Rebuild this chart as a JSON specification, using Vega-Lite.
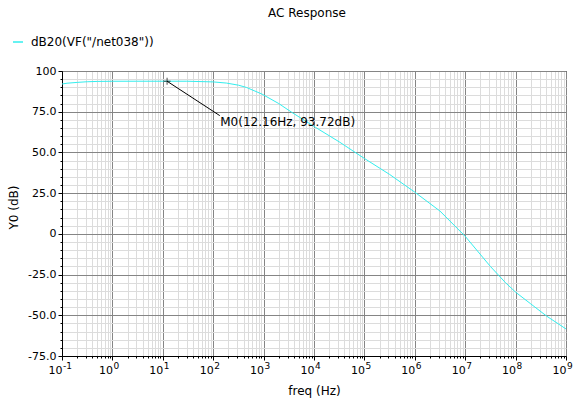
{
  "$schema": "https://vega.github.io/schema/vega-lite/v6.json",
  "width": 504,
  "height": 285,
  "autosize": {"type": "none"},
  "padding": {"left": 62, "top": 71, "right": 17, "bottom": 42},
  "background": "white",
  "config": {
    "font": "DejaVu Sans",
    "view": {"stroke": "black", "strokeWidth": 1}
  },
  "title": {
    "text": "AC Response",
    "fontSize": 12,
    "fontWeight": "normal",
    "color": "black",
    "anchor": "middle",
    "frame": "group",
    "dx": -7,
    "offset": 16
  },
  "datasets": {
    "curve": [
      {"freq": 0.1, "value": 92.0, "series": "dB20(VF(\"/net038\"))"},
      {"freq": 0.126, "value": 92.5, "series": "dB20(VF(\"/net038\"))"},
      {"freq": 0.2, "value": 93.0, "series": "dB20(VF(\"/net038\"))"},
      {"freq": 0.316, "value": 93.4, "series": "dB20(VF(\"/net038\"))"},
      {"freq": 0.5, "value": 93.6, "series": "dB20(VF(\"/net038\"))"},
      {"freq": 1, "value": 93.7, "series": "dB20(VF(\"/net038\"))"},
      {"freq": 3, "value": 93.72, "series": "dB20(VF(\"/net038\"))"},
      {"freq": 12.16, "value": 93.72, "series": "dB20(VF(\"/net038\"))"},
      {"freq": 30, "value": 93.72, "series": "dB20(VF(\"/net038\"))"},
      {"freq": 100, "value": 93.3, "series": "dB20(VF(\"/net038\"))"},
      {"freq": 182, "value": 92.6, "series": "dB20(VF(\"/net038\"))"},
      {"freq": 316, "value": 91.3, "series": "dB20(VF(\"/net038\"))"},
      {"freq": 457, "value": 89.9, "series": "dB20(VF(\"/net038\"))"},
      {"freq": 933, "value": 85.8, "series": "dB20(VF(\"/net038\"))"},
      {"freq": 2000, "value": 80.0, "series": "dB20(VF(\"/net038\"))"},
      {"freq": 3630, "value": 74.6, "series": "dB20(VF(\"/net038\"))"},
      {"freq": 10700, "value": 65.4, "series": "dB20(VF(\"/net038\"))"},
      {"freq": 31600, "value": 56.5, "series": "dB20(VF(\"/net038\"))"},
      {"freq": 100000, "value": 46.3, "series": "dB20(VF(\"/net038\"))"},
      {"freq": 316000, "value": 36.5, "series": "dB20(VF(\"/net038\"))"},
      {"freq": 1000000, "value": 25.6, "series": "dB20(VF(\"/net038\"))"},
      {"freq": 3160000, "value": 14.0, "series": "dB20(VF(\"/net038\"))"},
      {"freq": 10000000, "value": -1.5, "series": "dB20(VF(\"/net038\"))"},
      {"freq": 31600000, "value": -20.0, "series": "dB20(VF(\"/net038\"))"},
      {"freq": 63100000, "value": -30.0, "series": "dB20(VF(\"/net038\"))"},
      {"freq": 100000000, "value": -35.8, "series": "dB20(VF(\"/net038\"))"},
      {"freq": 200000000, "value": -43.0, "series": "dB20(VF(\"/net038\"))"},
      {"freq": 417000000, "value": -50.6, "series": "dB20(VF(\"/net038\"))"},
      {"freq": 1000000000, "value": -58.4, "series": "dB20(VF(\"/net038\"))"}
    ],
    "markerLine": [
      {"freq": 12.16, "value": 93.72, "order": 1},
      {"freq": 135, "value": 72.6, "order": 2}
    ],
    "marker": [
      {"freq": 12.16, "value": 93.72}
    ],
    "markerLabel": [
      {"freq": 138, "value": 68.5, "label": "M0(12.16Hz, 93.72dB)"}
    ],
    "exponents": [
      {"freq": 0.1, "exp": "-1"},
      {"freq": 1, "exp": "0"},
      {"freq": 10, "exp": "1"},
      {"freq": 100, "exp": "2"},
      {"freq": 1000, "exp": "3"},
      {"freq": 10000, "exp": "4"},
      {"freq": 100000, "exp": "5"},
      {"freq": 1000000, "exp": "6"},
      {"freq": 10000000, "exp": "7"},
      {"freq": 100000000, "exp": "8"},
      {"freq": 1000000000, "exp": "9"}
    ]
  },
  "encoding": {
    "x": {
      "field": "freq",
      "type": "quantitative",
      "scale": {"type": "log", "domain": [0.1, 1000000000], "nice": false},
      "axis": {
        "title": "freq (Hz)",
        "titleFontSize": 12,
        "titleFontWeight": "normal",
        "titleColor": "black",
        "titleY": 34,
        "titleBaseline": "middle",
        "values": [0.1,0.2,0.3,0.4,0.5,0.6,0.7,0.8,0.9,1,2,3,4,5,6,7,8,9,10,20,30,40,50,60,70,80,90,100,200,300,400,500,600,700,800,900,1000,2000,3000,4000,5000,6000,7000,8000,9000,10000,20000,30000,40000,50000,60000,70000,80000,90000,100000,200000,300000,400000,500000,600000,700000,800000,900000,1000000,2000000,3000000,4000000,5000000,6000000,7000000,8000000,9000000,10000000,20000000,30000000,40000000,50000000,60000000,70000000,80000000,90000000,100000000,200000000,300000000,400000000,500000000,600000000,700000000,800000000,900000000,1000000000],
        "labelExpr": "abs(log(datum.value)/LN10 - round(log(datum.value)/LN10)) < 0.000001 ? '10' : ''",
        "labelOverlap": false,
        "labelFlush": false,
        "labelBound": false,
        "labelFontSize": 11,
        "labelColor": "black",
        "labelAlign": "right",
        "labelPadding": 4,
        "grid": true,
        "gridColor": {"condition": {"test": "abs(log(datum.value)/LN10 - round(log(datum.value)/LN10)) < 0.000001", "value": "#858585"}, "value": "#dcdcdc"},
        "gridWidth": 1,
        "tickColor": "black",
        "tickSize": {"condition": {"test": "abs(log(datum.value)/LN10 - round(log(datum.value)/LN10)) < 0.000001", "value": 4}, "value": 2},
        "domainColor": "black"
      }
    },
    "y": {
      "field": "value",
      "type": "quantitative",
      "scale": {"domain": [-75, 100], "nice": false, "zero": false},
      "axis": {
        "title": "Y0 (dB)",
        "titleFontSize": 12,
        "titleFontWeight": "normal",
        "titleColor": "black",
        "titleX": -49,
        "titleY": 136,
        "titleBaseline": "middle",
        "titleAlign": "center",
        "titleAngle": -90,
        "values": [-75,-70,-65,-60,-55,-50,-45,-40,-35,-30,-25,-20,-15,-10,-5,0,5,10,15,20,25,30,35,40,45,50,55,60,65,70,75,80,85,90,95,100],
        "labelExpr": "datum.value % 25 === 0 ? (datum.value === 0 ? '0' : datum.value === 100 ? '100' : datum.value + '.0') : ''",
        "labelOverlap": false,
        "labelFlush": false,
        "labelBound": false,
        "labelFontSize": 11,
        "labelColor": "black",
        "labelPadding": 2,
        "grid": true,
        "gridColor": {"condition": {"test": "datum.value % 25 === 0", "value": "#858585"}, "value": "#dcdcdc"},
        "gridWidth": 1,
        "tickColor": "black",
        "tickSize": {"condition": {"test": "datum.value % 25 === 0", "value": 4}, "value": 2},
        "domainColor": "black"
      }
    }
  },
  "layer": [
    {
      "data": {"name": "curve"},
      "mark": {"type": "line", "strokeWidth": 1, "clip": true},
      "encoding": {
        "color": {
          "field": "series",
          "type": "nominal",
          "scale": {"range": ["#33eeee"]},
          "legend": {
            "title": null,
            "orient": "none",
            "legendX": -50,
            "legendY": -35,
            "padding": 0,
            "symbolType": "stroke",
            "symbolSize": 100,
            "symbolStrokeWidth": 1.5,
            "labelFontSize": 12,
            "labelColor": "black",
            "labelOffset": 7
          }
        }
      }
    },
    {
      "data": {"name": "markerLine"},
      "mark": {"type": "line", "color": "black", "strokeWidth": 1},
      "encoding": {
        "order": {"field": "order"}
      }
    },
    {
      "data": {"name": "marker"},
      "mark": {"type": "point", "shape": "M-1,0L1,0M0,-1L0,1", "size": 49, "stroke": "black", "strokeWidth": 1, "filled": false}
    },
    {
      "data": {"name": "markerLabel"},
      "mark": {"type": "text", "align": "left", "baseline": "middle", "fontSize": 12, "color": "black"},
      "encoding": {
        "text": {"field": "label"}
      }
    },
    {
      "data": {"name": "exponents"},
      "mark": {"type": "text", "align": "left", "baseline": "top", "fontSize": 9, "fill": "black", "dx": 1, "dy": 6},
      "encoding": {
        "y": {"value": {"expr": "height"}},
        "text": {"field": "exp", "type": "nominal"}
      }
    }
  ]
}
